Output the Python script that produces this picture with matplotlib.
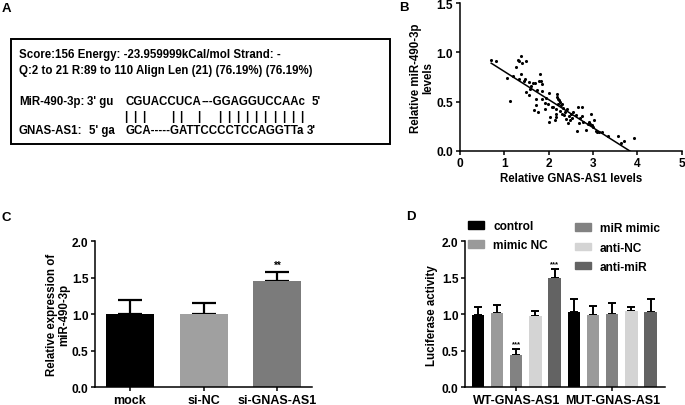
import matplotlib
matplotlib.use("Agg")
import matplotlib.pyplot as plt
from matplotlib.patches import Rectangle, Patch
import numpy as np

plt.rcParams['font.family'] = ['Liberation Sans', 'DejaVu Sans']
plt.rcParams['font.weight'] = 'bold'
plt.rcParams['axes.labelweight'] = 'bold'

# ---------------- data ----------------
# Panel B scatter
gnas_levels = [0.71, 0.81, 1.06, 1.13, 1.19, 1.26, 1.31, 1.34, 1.38, 1.40, 1.37, 1.34, 1.49, 1.46,
               1.55, 1.49, 1.55, 1.58, 1.64, 1.70, 1.67, 1.71, 1.72, 1.76, 1.81, 1.79, 1.83, 1.86,
               1.86, 1.85, 1.91, 1.92, 2.02, 2.03, 2.02, 2.07, 2.11, 2.17, 2.19, 2.21, 2.23, 2.22,
               2.16, 2.18, 2.28, 2.31, 2.30, 2.34, 2.37, 2.41, 2.40, 2.43, 2.48, 2.51, 2.56, 2.61,
               2.64, 2.67, 2.69, 2.75, 2.75, 2.77, 2.84, 2.88, 2.96, 2.94, 2.99, 3.03, 3.01, 3.09,
               3.14, 3.21, 3.35, 3.56, 3.63, 3.69, 3.92,
               1.44, 1.60, 1.74, 1.98, 2.20, 2.25, 2.27, 2.33, 2.46, 2.53, 2.72, 2.91, 3.06, 2.14, 1.95]
mir_levels = [0.92, 0.91, 0.74, 0.51, 0.76, 0.85, 0.92, 0.91, 0.96, 0.89, 0.78, 0.73, 0.91, 0.73,
              0.70, 0.60, 0.57, 0.63, 0.69, 0.69, 0.41, 0.46, 0.53, 0.39, 0.78, 0.71, 0.71, 0.61,
              0.68, 0.53, 0.49, 0.42, 0.59, 0.34, 0.29, 0.44, 0.44, 0.42, 0.58, 0.53, 0.52, 0.47,
              0.37, 0.34, 0.46, 0.47, 0.37, 0.36, 0.39, 0.42, 0.32, 0.28, 0.31, 0.37, 0.39, 0.36,
              0.20, 0.44, 0.28, 0.44, 0.35, 0.29, 0.21, 0.27, 0.37, 0.27, 0.26, 0.31, 0.24, 0.19,
              0.19, 0.19, 0.15, 0.15, 0.08, 0.10, 0.13,
              0.71, 0.66, 0.62, 0.47, 0.55, 0.50, 0.40, 0.43, 0.35, 0.33, 0.33, 0.29, 0.20, 0.31, 0.54]
fit_slope = -0.286
fit_intercept = 1.093
r_text = "r=-0.8829"

# Panel C
c_groups = ["mock", "si-NC", "si-GNAS-AS1"]
c_values = [1.00, 1.00, 1.45]
c_errors = [0.20, 0.15, 0.13]
c_colors = ["#000000", "#a0a0a0", "#7b7b7b"]

# Panel D
d_groups = ["WT-GNAS-AS1", "MUT-GNAS-AS1"]
d_treatments = ["control", "mimic NC", "miR mimic", "anti-NC", "anti-miR"]
d_values = {"control": [0.99, 1.03], "mimic NC": [1.02, 0.99], "miR mimic": [0.44, 1.01],
            "anti-NC": [0.97, 1.04], "anti-miR": [1.50, 1.03]}
d_errors = {"control": [0.11, 0.18], "mimic NC": [0.11, 0.13], "miR mimic": [0.09, 0.15],
            "anti-NC": [0.07, 0.06], "anti-miR": [0.12, 0.18]}
d_colors = {"control": "#000000", "mimic NC": "#9a9a9a", "miR mimic": "#828282",
            "anti-NC": "#d4d4d4", "anti-miR": "#636363"}

W, H = 685, 406
fig = plt.figure(figsize=(W / 100, H / 100), dpi=100)

# overlay axes in pixel coordinates (for panel A + labels)
ax0 = fig.add_axes([0, 0, 1, 1])
ax0.set_xlim(0, W)
ax0.set_ylim(H, 0)
ax0.axis('off')
ax0.set_zorder(-1)

TICK_FS = 8.6
LABEL_FS = 8.3

def fax(x0, y0, x1, y1):
    return fig.add_axes([x0 / W, 1 - y1 / H, (x1 - x0) / W, (y1 - y0) / H])

def style(ax):
    for s in ['top', 'right']:
        ax.spines[s].set_visible(False)
    for s in ['left', 'bottom']:
        ax.spines[s].set_linewidth(1.1)
    ax.tick_params(direction='out', length=3.2, width=1.1, labelsize=TICK_FS, pad=1.5)
    for t in ax.get_xticklabels() + ax.get_yticklabels():
        t.set_fontweight('bold')

# panel labels
for lab, x, y in [("A", 2, 3), ("B", 399, 2), ("C", 2, 212), ("D", 406, 211)]:
    ax0.text(x, y, lab, fontsize=9.5, fontweight='bold', ha='left', va='top')

# ---------------- Panel A ----------------
ax0.add_patch(Rectangle((11, 39.5), 379, 105.5, fill=False, lw=1.4, ec='black'))
fsA = 8.3
tk = dict(fontsize=fsA, fontweight='bold', va='center', ha='left')
ax0.text(19, 55, "Score:156 Energy: -23.959999kCal/mol Strand: -", **tk)
ax0.text(19, 71, "Q:2 to 21 R:89 to 110 Align Len (21) (76.19%) (76.19%)", **tk)
for s, x in [("MiR-490-3p:", 19), ("3' gu", 87.3), ("CGUACCUCA", 125.7), ("---GGAGGUCCAAc", 202), ("5'", 311.7)]:
    ax0.text(x, 101.7, s, **tk)
for s, x in [("GNAS-AS1:", 19), ("5' ga", 89), ("GCA-----GATTCCCCTCCAGGTTa", 125.7), ("3'", 306.7)]:
    ax0.text(x, 131, s, **tk)
bar_x = [126, 135, 143.3, 172.7, 180.7, 198.3] + [219.3 + 9.16 * i for i in range(10)]
for x in bar_x:
    ax0.text(x, 117.3, "|", fontsize=fsA, fontweight='bold', va='center', ha='center')

# ---------------- Panel B ----------------
axB = fax(459.7, 4.2, 681.7, 151.7)
axB.scatter(gnas_levels, mir_levels, s=5, color='black', zorder=3, linewidths=0)
xf = np.array([min(gnas_levels), max(gnas_levels)])
axB.plot(xf, fit_slope * xf + fit_intercept, color='black', lw=1.1)
axB.set_xlim(0, 5)
axB.set_ylim(0, 1.5)
axB.set_xticks([0, 1, 2, 3, 4, 5])
axB.set_yticks([0, 0.5, 1.0, 1.5])
axB.set_yticklabels(["0.0", "0.5", "1.0", "1.5"])
axB.set_xlabel("Relative GNAS-AS1 levels", fontsize=LABEL_FS, labelpad=2)
axB.set_ylabel("Relative miR-490-3p\nlevels", fontsize=LABEL_FS, labelpad=1.5, linespacing=1.0)
style(axB)
ax0.text(577, 10, r_text, fontsize=8, fontweight='bold', va='center', ha='left')
ax0.text(577, 23, r"$\bf{\it{P}}$<0.0001", fontsize=8, fontweight='bold', va='center', ha='left')

# ---------------- Panel C ----------------
axC = fax(95, 242.3, 312, 388.3)
xc = np.arange(len(c_groups))
axC.bar(xc, c_values, width=0.65, color=c_colors, zorder=2)
axC.errorbar(xc, c_values, yerr=[np.zeros(len(c_values)), c_errors], fmt='none', ecolor='black',
             elinewidth=1.6, capsize=8.5, capthick=1.6, zorder=1)
axC.set_xlim(-0.475, 2.47)
axC.set_ylim(0, 2.0)
axC.set_xticks(xc)
axC.set_xticklabels(c_groups, fontweight='bold')
axC.set_yticks([0, 0.5, 1.0, 1.5, 2.0])
axC.set_yticklabels(["0.0", "0.5", "1.0", "1.5", "2.0"])
axC.set_ylabel("Relative expression of\nmiR-490-3p", fontsize=LABEL_FS, labelpad=1, linespacing=1.0)
style(axC)
axC.tick_params(axis='x', labelsize=9)
axC.text(xc[2], c_values[2] + c_errors[2] + 0.03, "**", ha='center', va='bottom', fontsize=7, fontweight='bold')

# ---------------- Panel D ----------------
axD = fax(465, 242.3, 665, 388.3)
nT = len(d_treatments)
for i, t in enumerate(d_treatments):
    pos = np.array([g * nT + i for g in range(len(d_groups))])
    axD.bar(pos, d_values[t], width=0.65, color=d_colors[t], zorder=2, label=t)
    axD.errorbar(pos, d_values[t], yerr=[np.zeros(len(d_groups)), d_errors[t]], fmt='none',
                 ecolor='black', elinewidth=1.4, capsize=2.6, capthick=1.4, zorder=1)
for t, g in [("miR mimic", 0), ("anti-miR", 0)]:
    i = d_treatments.index(t)
    axD.text(g * nT + i, d_values[t][g] + d_errors[t][g] + 0.02, "***", ha='center', va='bottom',
             fontsize=5.5, fontweight='bold')
axD.set_xlim(-0.67, 9.75)
axD.set_ylim(0, 2.0)
axD.set_xticks([g * nT + (nT - 1) / 2 for g in range(len(d_groups))])
axD.set_xticklabels(d_groups, fontweight='bold')
axD.set_yticks([0, 0.5, 1.0, 1.5, 2.0])
axD.set_yticklabels(["0.0", "0.5", "1.0", "1.5", "2.0"])
axD.set_ylabel("Luciferase activity", fontsize=LABEL_FS, labelpad=3)
style(axD)
axD.tick_params(axis='x', labelsize=9)

handles = [Patch(color=d_colors[t], label=t) for t in d_treatments]
legkw = dict(frameon=False, handlelength=1.35, handleheight=0.62, handletextpad=0.75,
             labelspacing=0.6, borderpad=0, borderaxespad=0, loc='upper left',
             bbox_transform=ax0.transData, prop={'weight': 'bold', 'size': 8.6})
leg1 = axD.legend(handles=handles[:2], bbox_to_anchor=(468, 221), **legkw)
axD.add_artist(leg1)
leg2 = axD.legend(handles=handles[2:], bbox_to_anchor=(575, 223.5), **legkw)

fig.savefig("out.png", dpi=100)
